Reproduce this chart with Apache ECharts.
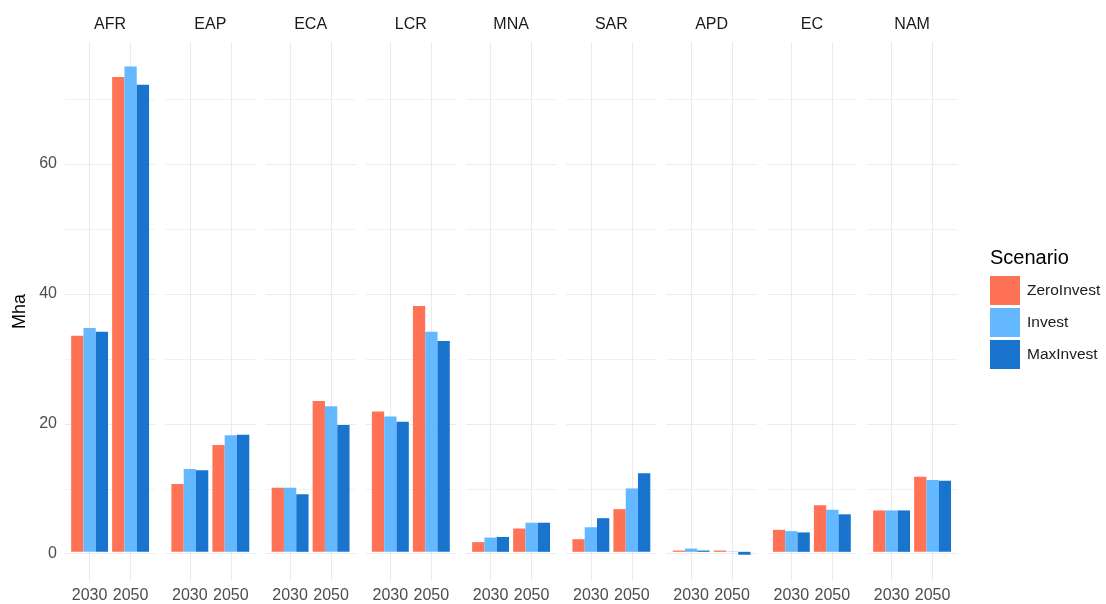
<!DOCTYPE html>
<html><head><meta charset="utf-8">
<script src="https://cdn.jsdelivr.net/npm/echarts@6/dist/echarts.min.js"></script>
<style>html,body{margin:0;padding:0;background:#fff}#c{width:1106px;height:604px}</style>
</head><body><div id="c"></div>
<script>
// ---- data ----
const regions = ['AFR','EAP','ECA','LCR','MNA','SAR','APD','EC','NAM'];
const years = ['2030','2050'];
const scenarios = ['ZeroInvest','Invest','MaxInvest'];
// each entry: [2030, 2050] per region (Mha)
const zeroInvest = [[33.4,73.4],[10.5,16.5],[9.9,23.3],[21.7,38.0],[1.5,3.6],[1.95,6.6],[0.2,0.2],[3.4,7.2],[6.4,11.6]];
const invest     = [[34.6,75.0],[12.8,18.0],[9.9,22.5],[20.9,34.0],[2.2,4.5],[3.8,9.8],[0.5,0.05],[3.2,6.5],[6.4,11.1]];
const maxInvest  = [[34.0,72.2],[12.6,18.1],[8.9,19.6],[20.1,32.6],[2.3,4.5],[5.2,12.15],[0.2,-0.45],[3.0,5.8],[6.4,11.0]];
const yTicks = [0,20,40,60];
const yMinor = [10,30,50,70];

// ---- layout / style ----
const seriesValues = [zeroInvest, invest, maxInvest];
const colors = ['#FF7256','#63B8FF','#1874CD'];
const FONT = 'Liberation Sans, Arial, sans-serif';
const yMin = -4.2, yMax = 78.8;
const left0 = 65, pitch = 100.25, unit = 41, panelW = 2.2*unit;
const gTop = 42, gHeight = 539;
const gridColor = '#ebebeb';

const grid = [], xAxis = [], yAxis = [], series = [], title = [];
regions.forEach((r, i) => {
  const pl = left0 + pitch*i;
  grid.push({left: pl, top: gTop, width: panelW, height: gHeight, containLabel: false});
  grid.push({left: pl + 0.1*unit, top: gTop, width: 2*unit, height: gHeight, containLabel: false});
  const bg = 2*i, bi = 2*i + 1;
  xAxis.push({type:'value', gridIndex: bg, min: 0.4, max: 2.6, show: false});
  yAxis.push({type:'value', gridIndex: bg, min: yMin, max: yMax, show: i === 0,
    axisLine:{show:false}, axisTick:{show:false}, axisLabel:{show:false}, splitLine:{show:false},
    name: i === 0 ? 'Mha' : '', nameLocation:'middle', nameRotate: 90, nameGap: 36,
    nameTextStyle:{fontFamily: FONT, fontSize: 18, color:'#000'}});
  xAxis.push({type:'category', gridIndex: bi, data: years,
    axisLine:{show:false}, axisTick:{show:false}, splitLine:{show:false},
    axisLabel:{interval: 0, hideOverlap: false, fontFamily: FONT, fontSize: 16, color:'#4d4d4d', margin: 9}});
  yAxis.push({type:'value', gridIndex: bi, min: yMin, max: yMax, show: false});

  const ml = [];
  yMinor.forEach(v => ml.push({yAxis: v, lineStyle:{width: 0.7}}));
  yTicks.forEach(v => ml.push({yAxis: v, label: i === 0 ?
     {show:true, position:'start', distance: 8, formatter: String(v), fontFamily: FONT, fontSize: 16, color:'#4d4d4d'} : {show:false}}));
  [1, 2].forEach(v => ml.push({xAxis: v}));
  series.push({type:'line', xAxisIndex: bg, yAxisIndex: bg, data: [], silent: true, z: 0,
    markLine: {silent: true, z: 0, zlevel: 0, symbol: ['none','none'], animation: false,
      lineStyle: {color: gridColor, width: 1.1, type: 'solid'},
      label: {show: false}, emphasis: {disabled: true}, data: ml}});

  scenarios.forEach((s, k) => {
    series.push({type:'bar', name: s, xAxisIndex: bi, yAxisIndex: bi, z: 3,
      data: seriesValues[k][i], barGap: '0%', barCategoryGap: '10%',
      itemStyle: {color: colors[k]}, silent: true});
  });

  title.push({text: r, left: pl + panelW/2, top: 17, textAlign: 'center', padding: 0,
    textStyle: {fontFamily: FONT, fontSize: 16, fontWeight: 'normal', color: '#1a1a1a'}});
});
title.push({text: 'Scenario', left: 990, top: 248, padding: 0,
  textStyle: {fontFamily: FONT, fontSize: 20, fontWeight: 'normal', color: '#000'}});

const chart = echarts.init(document.getElementById('c'), null, {renderer: 'canvas'});
chart.setOption({
  animation: false,
  backgroundColor: '#fff',
  title: title,
  legend: {orient: 'vertical', left: 990, top: 276, padding: 0, itemWidth: 30, itemHeight: 29, itemGap: 3,
    icon: 'rect', selectedMode: false, data: scenarios,
    textStyle: {fontFamily: FONT, fontSize: 15.5, color: '#1a1a1a', padding: [0,0,0,2]}},
  grid: grid, xAxis: xAxis, yAxis: yAxis, series: series
});
</script></body></html>
